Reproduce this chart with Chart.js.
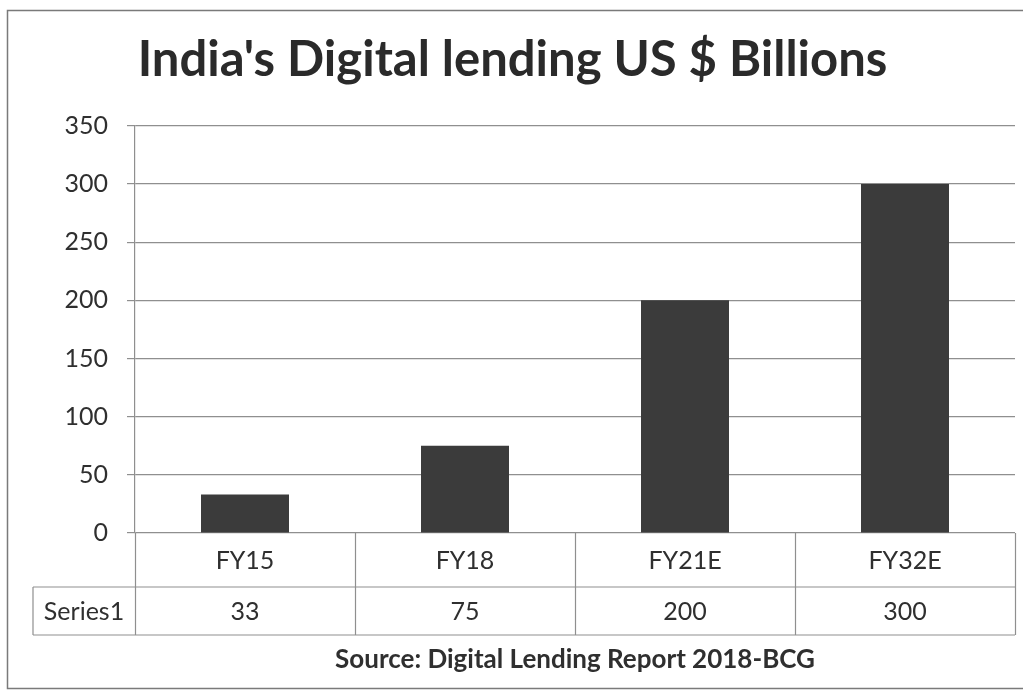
<!DOCTYPE html>
<html>
<head>
<meta charset="utf-8">
<script src="https://cdn.jsdelivr.net/npm/chart.js@4.4.0/dist/chart.umd.min.js"></script>
<style>
  html, body { margin: 0; padding: 0; background: #fff; }
  #wrap { width: 1023px; height: 693px; }
</style>
</head>
<body>
<div id="wrap"><canvas id="grafico" width="1023" height="693"></canvas></div>
<script>
const categorias = ["FY15", "FY18", "FY21E", "FY32E"];
const valores = [33, 75, 200, 300];
const nombreSerie = "Series1";
const titulo = "India's Digital lending US $ Billions";
const fuente = "Source: Digital Lending Report 2018-BCG";

const FUENTE = "Lato, 'Open Sans', sans-serif";
const TEXTO = "#2f2f2f";
const LINEA = "#8f8f8f";

// Tabla de datos bajo el eje X, marco y nota de fuente
const tablaDatos = {
  id: "tablaDatos",
  afterDraw(chart) {
    const ctx = chart.ctx;
    const area = chart.chartArea;
    const x = chart.scales.x;
    const fila1 = area.bottom + 54;
    const fila2 = fila1 + 48;
    const izq = 33;
    const paso = (area.right - area.left) / categorias.length;

    ctx.save();
    ctx.strokeStyle = LINEA;
    ctx.lineWidth = 1.2;
    ctx.beginPath();
    // lineas horizontales
    ctx.moveTo(izq, fila1); ctx.lineTo(area.right, fila1);
    ctx.moveTo(izq, fila2); ctx.lineTo(area.right, fila2);
    // lineas verticales
    ctx.moveTo(izq, fila1); ctx.lineTo(izq, fila2);
    for (let i = 0; i <= categorias.length; i++) {
      const xl = Math.round(area.left + paso * i) + 0.5;
      ctx.moveTo(xl, area.bottom); ctx.lineTo(xl, fila2);
    }
    ctx.stroke();

    ctx.fillStyle = TEXTO;
    ctx.font = "25px " + FUENTE;
    ctx.textAlign = "center";
    ctx.textBaseline = "middle";
    categorias.forEach((c, i) => {
      const cx = x.getPixelForValue(i);
      ctx.fillText(c, cx, (area.bottom + fila1) / 2 + 1);
      ctx.fillText(String(valores[i]), cx, (fila1 + fila2) / 2 + 1);
    });
    ctx.fillText(nombreSerie, (izq + area.left) / 2, (fila1 + fila2) / 2 + 1);

    ctx.font = "bold 26px " + FUENTE;
    ctx.fillText(fuente, (area.left + area.right) / 2, fila2 + 25);

    // marco exterior
    ctx.strokeStyle = "#7a7a7a";
    ctx.lineWidth = 1.5;
    ctx.beginPath();
    ctx.moveTo(1023, 10.5); ctx.lineTo(7.5, 10.5); ctx.lineTo(7.5, 688.5); ctx.lineTo(1023, 688.5);
    ctx.stroke();
    ctx.restore();
  }
};

new Chart(document.getElementById("grafico"), {
  type: "bar",
  data: {
    labels: categorias,
    datasets: [{
      label: nombreSerie,
      data: valores,
      backgroundColor: "#3b3b3b",
      borderWidth: 0,
      categoryPercentage: 1,
      barPercentage: 0.4,
    }],
  },
  options: {
    responsive: false,
    animation: false,
    layout: { padding: { left: 10, right: 8, top: 0, bottom: 160 } },
    plugins: {
      legend: { display: false },
      tooltip: { enabled: false },
      title: {
        display: true,
        text: titulo,
        color: "#2a2a2a",
        font: { family: FUENTE, size: 49, weight: "bold" },
        padding: { top: 31, bottom: 36 },
      },
    },
    scales: {
      x: { display: false },
      y: {
        min: 0,
        max: 350,
        ticks: {
          stepSize: 50,
          color: TEXTO,
          padding: 19,
          font: { family: FUENTE, size: 25 },
        },
        grid: { color: LINEA, lineWidth: 1.2, tickLength: 8 },
        border: { color: LINEA, width: 1.2 },
        afterFit(scale) { scale.width = 125; },
      },
    },
  },
  plugins: [tablaDatos],
});
</script>
</body>
</html>
